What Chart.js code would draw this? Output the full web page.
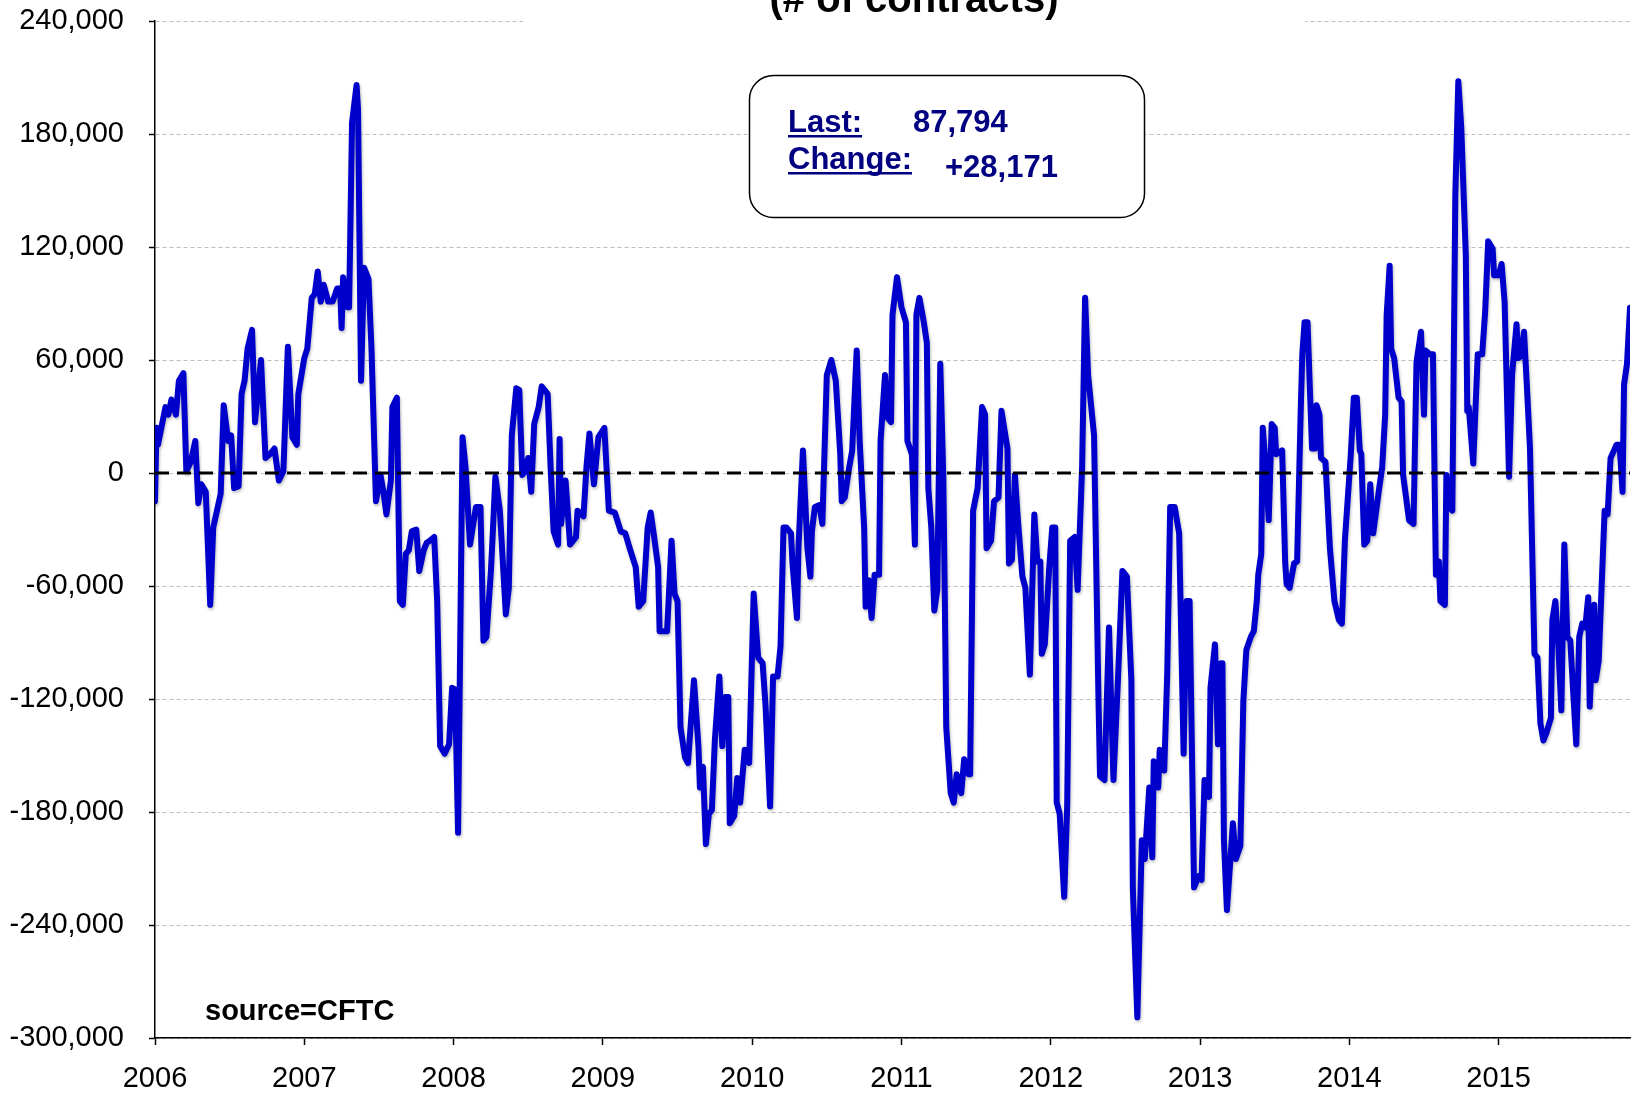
<!DOCTYPE html>
<html>
<head>
<meta charset="utf-8">
<script src="https://cdn.jsdelivr.net/npm/chart.js@4.4.1/dist/chart.umd.min.js"></script>
<style>
  html, body { margin: 0; padding: 0; background: #fff; }
</style>
</head>
<body>
<canvas id="myChart" width="1650" height="1098"></canvas>
<script>
// weekly net position (x in decimal years, y in thousands of contracts)
const weekX = [
  2006.00, 2006.01, 2006.02, 2006.07, 2006.09, 2006.11, 2006.14, 2006.16, 2006.19, 2006.21,
  2006.24, 2006.27, 2006.29, 2006.31, 2006.34, 2006.37, 2006.39, 2006.44, 2006.46, 2006.49,
  2006.51, 2006.53, 2006.56, 2006.58, 2006.60, 2006.62, 2006.65, 2006.67, 2006.71, 2006.74,
  2006.77, 2006.80, 2006.83, 2006.86, 2006.89, 2006.92, 2006.95, 2006.96,
  2007.00, 2007.02, 2007.05, 2007.07, 2007.09, 2007.11, 2007.13, 2007.16, 2007.19, 2007.22,
  2007.24, 2007.25, 2007.26, 2007.29, 2007.30, 2007.32, 2007.35, 2007.36, 2007.38, 2007.40,
  2007.43, 2007.45, 2007.48, 2007.51, 2007.53, 2007.55, 2007.58, 2007.59, 2007.62, 2007.64,
  2007.66, 2007.68, 2007.70, 2007.72, 2007.75, 2007.77, 2007.80, 2007.82, 2007.84, 2007.87,
  2007.89, 2007.91, 2007.94, 2007.97, 2007.99,
  2008.01, 2008.03, 2008.06, 2008.08, 2008.11, 2008.15, 2008.18, 2008.20, 2008.22, 2008.25,
  2008.26, 2008.28, 2008.31, 2008.35, 2008.37, 2008.39, 2008.42, 2008.44, 2008.46, 2008.48,
  2008.50, 2008.52, 2008.54, 2008.57, 2008.59, 2008.63, 2008.65, 2008.67, 2008.70, 2008.71,
  2008.72, 2008.75, 2008.78, 2008.82, 2008.83, 2008.87, 2008.89, 2008.91, 2008.94, 2008.97,
  2009.01, 2009.04, 2009.08, 2009.12, 2009.15, 2009.18, 2009.22, 2009.24, 2009.27, 2009.30,
  2009.32, 2009.34, 2009.37, 2009.38, 2009.40, 2009.43, 2009.46, 2009.48, 2009.50, 2009.52,
  2009.55, 2009.57, 2009.61, 2009.64, 2009.65, 2009.67, 2009.69, 2009.71, 2009.73, 2009.75,
  2009.78, 2009.80, 2009.82, 2009.84, 2009.85, 2009.88, 2009.90, 2009.92, 2009.95, 2009.98,
  2010.01, 2010.04, 2010.07, 2010.09, 2010.12, 2010.14, 2010.17, 2010.19, 2010.21, 2010.23,
  2010.26, 2010.27, 2010.30, 2010.31, 2010.34, 2010.37, 2010.39, 2010.40, 2010.42, 2010.45,
  2010.47, 2010.50, 2010.53, 2010.56, 2010.59, 2010.60, 2010.62, 2010.65, 2010.67, 2010.70,
  2010.72, 2010.75, 2010.76, 2010.78, 2010.80, 2010.82, 2010.85, 2010.86, 2010.89, 2010.91,
  2010.93, 2010.94, 2010.97,
  2011.00, 2011.03, 2011.04, 2011.07, 2011.09, 2011.10, 2011.12, 2011.15, 2011.17, 2011.18,
  2011.20, 2011.22, 2011.24, 2011.26, 2011.28, 2011.29, 2011.30, 2011.33, 2011.35, 2011.37,
  2011.40, 2011.42, 2011.45, 2011.46, 2011.48, 2011.51, 2011.54, 2011.56, 2011.57, 2011.60,
  2011.62, 2011.65, 2011.67, 2011.71, 2011.72, 2011.74, 2011.76, 2011.78, 2011.81, 2011.83,
  2011.86, 2011.89, 2011.91, 2011.93, 2011.94, 2011.96, 2011.99,
  2012.01, 2012.03, 2012.04, 2012.06, 2012.09, 2012.11, 2012.13, 2012.16, 2012.18, 2012.21,
  2012.23, 2012.25, 2012.29, 2012.32, 2012.33, 2012.36, 2012.39, 2012.42, 2012.45, 2012.48,
  2012.51, 2012.54, 2012.55, 2012.58, 2012.61, 2012.63, 2012.66, 2012.68, 2012.69, 2012.72,
  2012.73, 2012.76, 2012.78, 2012.80, 2012.83, 2012.86, 2012.89, 2012.91, 2012.93, 2012.96,
  2012.99,
  2013.01, 2013.03, 2013.06, 2013.07, 2013.10, 2013.12, 2013.14, 2013.15, 2013.16, 2013.18,
  2013.20, 2013.22, 2013.24, 2013.27, 2013.29, 2013.31, 2013.34, 2013.36, 2013.38, 2013.39,
  2013.41, 2013.42, 2013.44, 2013.46, 2013.48, 2013.50, 2013.51, 2013.55, 2013.57, 2013.58,
  2013.60, 2013.63, 2013.65, 2013.675, 2013.685, 2013.70, 2013.72, 2013.75, 2013.77, 2013.78,
  2013.80, 2013.81, 2013.84, 2013.87, 2013.90, 2013.93, 2013.95, 2013.97,
  2014.01, 2014.03, 2014.05, 2014.07, 2014.08, 2014.10, 2014.12, 2014.14, 2014.16, 2014.20,
  2014.22, 2014.24, 2014.25, 2014.27, 2014.28, 2014.30, 2014.33, 2014.35, 2014.36, 2014.40,
  2014.43, 2014.45, 2014.48, 2014.50, 2014.51, 2014.54, 2014.56, 2014.58, 2014.60, 2014.61,
  2014.64, 2014.65, 2014.67, 2014.69, 2014.71, 2014.73, 2014.75, 2014.78, 2014.79, 2014.80,
  2014.83, 2014.86, 2014.89, 2014.91, 2014.93, 2014.96, 2014.97,
  2015.00, 2015.02, 2015.04, 2015.07, 2015.09, 2015.12, 2015.13, 2015.15, 2015.17, 2015.19,
  2015.21, 2015.24, 2015.26, 2015.28, 2015.30, 2015.32, 2015.35, 2015.36, 2015.38, 2015.40,
  2015.42, 2015.44, 2015.46, 2015.48, 2015.50, 2015.52, 2015.54, 2015.56, 2015.58, 2015.60,
  2015.61, 2015.64, 2015.65, 2015.67, 2015.70, 2015.71, 2015.73, 2015.75, 2015.79, 2015.81,
  2015.83, 2015.84, 2015.86, 2015.88
];
const netK = [
  -15, 24, 15, 35, 31, 39, 31, 49, 53, 1,
  6, 17, -16, -6, -10, -70, -29, -11, 36, 17,
  20, -8, -7, 42, 49, 66, 76, 27, 60, 8,
  10, 13, -4, 1, 67, 19, 15, 42,
  61, 66, 93, 95, 107, 91, 100, 91, 91, 98,
  98, 77, 104, 88, 88, 186, 206, 193, 49, 109,
  103, 66, -15, -1, -10, -22, -4, 35, 40, -68,
  -70, -43, -41, -31, -30, -52, -41, -37, -36, -34,
  -68, -145, -149, -144, -114,
  -115, -191, 19, 3, -38, -18, -18, -89, -87, -52,
  -36, -2, -20, -75, -61, 20, 45, 44, -1, 1,
  8, -10, 26, 35, 46, 42, 3, -31, -38, 18,
  -27, -4, -38, -34, -20, -23, 3, 21, -6, 19,
  24, -20, -21, -31, -32, -40, -50, -71, -68, -29,
  -21, -32, -50, -84, -84, -84, -36, -64, -68, -135,
  -151, -154, -110, -145, -167, -156, -197, -181, -179, -142,
  -108, -145, -119, -119, -186, -182, -162, -175, -147, -154,
  -64, -98, -101, -124, -177, -108, -108, -92, -29, -29,
  -32, -48, -77, -40, 12, -40, -55, -31, -18, -17,
  -27, 52, 60, 49, 10, -15, -13, 3, 12, 65,
  17, -29, -71, -57, -77, -54, -54, 17, 52, 29,
  27, 84, 104,
  88, 80, 17, 10, -38, 84, 93, 80, 69, -8,
  -29, -73, -62, 58, -1, -64, -135, -170, -175, -160,
  -170, -152, -160, -160, -20, -8, 35, 31, -40, -36,
  -15, -13, 33, 13, -48, -46, -1, -25, -55, -61,
  -107, -22, -47, -47, -96, -91, -50,
  -29, -29, -175, -181, -225, -177, -36, -34, -62, 3,
  93, 52, 20, -121, -161, -163, -82, -163, -110, -52,
  -55, -110, -221, -289, -195, -205, -167, -204, -153, -167,
  -147, -158, -107, -18, -18, -32, -149, -68, -68, -220,
  -214,
  -216, -163, -172, -114, -91, -144, -101, -101, -195, -232,
  -209, -186, -205, -198, -121, -94, -87, -84, -68, -54,
  -43, 24, 3, -25, 26, 24, 10, 12, -47, -59,
  -61, -48, -47, 35, 63, 80, 80, 13, 13, 36,
  31, 8, 6, -40, -68, -78, -80, -36,
  10, 40, 40, 12, 10, -38, -36, -6, -32, -8,
  3, 31, 84, 110, 66, 61, 40, 38, -1, -25,
  -27, 59, 75, 31, 65, 63, 63, -54, -47, -68,
  -70, -1, -18, -20, 148, 208, 183, 116, 33, 35,
  5, 63, 63, 86, 123, 119, 105,
  105, 111, 91, -2, 52, 79, 61, 62, 75, 45,
  13, -96, -98, -133, -142, -138, -130, -78, -68, -92,
  -126, -38, -87, -89, -117, -144, -87, -80, -82, -66,
  -124, -70, -110, -100, -40, -20, -22, 8, 15, 15,
  -10, 47, 58, 87.794
];
const zeroX = [2006, 2015.88];
const zeroY = [0, 0];
const yearTicks = [2006, 2007, 2008, 2009, 2010, 2011, 2012, 2013, 2014, 2015];
const yMin = -300, yMax = 240, yStep = 60;

const titleText = "(# of contracts)";
const lastLabel = "Last:";
const lastValue = "87,794";
const changeLabel = "Change:";
const changeValue = "+28,171";
const sourceText = "source=CFTC";

const FONT = '"Liberation Sans", Arial, Helvetica, sans-serif';
const NAVY = "#000080";

// shadow under the blue line
const lineShadow = {
  id: "lineShadow",
  beforeDatasetDraw(chart, args) {
    if (args.index !== 1) return;
    const ctx = chart.ctx;
    ctx.save();
    ctx.shadowColor = "rgba(0,0,0,0.25)";
    ctx.shadowBlur = 3;
    ctx.shadowOffsetX = 1;
    ctx.shadowOffsetY = 2;
  },
  afterDatasetDraw(chart, args) {
    if (args.index !== 1) return;
    chart.ctx.restore();
  },
};

// title remnant, last/change box, source note
const overlay = {
  id: "overlay",
  afterDraw(chart) {
    const ctx = chart.ctx;
    ctx.save();
    ctx.fillStyle = "#fff";
    ctx.fillRect(523, 0, 782, 26);

    ctx.fillStyle = "#000";
    ctx.font = "bold 40px " + FONT;
    ctx.textAlign = "center";
    ctx.textBaseline = "alphabetic";
    ctx.fillText(titleText, 914, 12);

    ctx.beginPath();
    ctx.roundRect(749.5, 75.5, 395, 142, 24);
    ctx.fillStyle = "#fff";
    ctx.fill();
    ctx.lineWidth = 1.5;
    ctx.strokeStyle = "#000";
    ctx.stroke();

    ctx.textAlign = "left";
    ctx.fillStyle = NAVY;
    ctx.font = "bold 31px " + FONT;
    ctx.fillText(lastLabel, 788, 132);
    ctx.fillRect(788, 135, ctx.measureText(lastLabel).width, 2.5);
    ctx.fillText(lastValue, 913, 132);
    ctx.fillText(changeLabel, 788, 169);
    ctx.fillRect(788, 172, ctx.measureText(changeLabel).width, 2.5);
    ctx.fillText(changeValue, 945, 177);

    ctx.fillStyle = "#000";
    ctx.font = "bold 29px " + FONT;
    ctx.fillText(sourceText, 205, 1020);
    ctx.restore();
  },
};

const ctx = document.getElementById("myChart");

const myChart = new Chart(ctx, {
  type: "line",
  data: {
    datasets: [
      {
        label: "zero",
        data: zeroX.map((x, i) => ({ x: x, y: zeroY[i] })),
        borderColor: "#000",
        borderWidth: 3,
        borderDash: [14, 8],
        pointRadius: 0,
        order: 0,
      },
      {
        label: "Net position",
        data: weekX.map((x, i) => ({ x: x, y: netK[i] })),
        borderColor: "#0000cc",
        borderWidth: 6,
        borderJoinStyle: "round",
        borderCapStyle: "round",
        pointRadius: 0,
        tension: 0,
        order: 1,
      },
    ],
  },
  options: {
    responsive: false,
    devicePixelRatio: 1,
    animation: false,
    layout: { padding: { left: 0, right: 20, top: 21, bottom: 0 } },
    plugins: {
      legend: { display: false },
      tooltip: { enabled: false },
    },
    scales: {
      x: {
        type: "linear",
        min: 2006,
        max: 2015.88,
        afterBuildTicks: (axis) => {
          axis.ticks = yearTicks.map((v) => ({ value: v }));
        },
        afterFit: (axis) => {
          axis.height = 60;
          axis.paddingLeft = 0;
          axis.paddingRight = 0;
        },
        grid: {
          drawOnChartArea: false,
          drawTicks: true,
          tickLength: 7,
          tickColor: "#000",
          tickWidth: 1.5,
        },
        border: { display: true, color: "#000", width: 1.5 },
        ticks: {
          autoSkip: false,
          maxRotation: 0,
          padding: 17,
          color: "#000",
          font: { family: FONT, size: 29 },
          callback: (v) => String(v),
        },
      },
      y: {
        min: yMin,
        max: yMax,
        afterFit: (axis) => {
          axis.width = 155;
          axis.paddingTop = 0;
          axis.paddingBottom = 0;
        },
        grid: {
          color: "#bdbdbd",
          lineWidth: 1,
          tickLength: 6,
          tickColor: "#000",
          tickWidth: 1.5,
        },
        border: { display: true, color: "#000", width: 1.5, dash: [4, 3] },
        ticks: {
          stepSize: yStep,
          padding: 25,
          color: "#000",
          font: { family: FONT, size: 29 },
          callback: (v) => (v * 1000).toLocaleString("en-US"),
        },
      },
    },
  },
  plugins: [lineShadow, overlay],
});
</script>
</body>
</html>
